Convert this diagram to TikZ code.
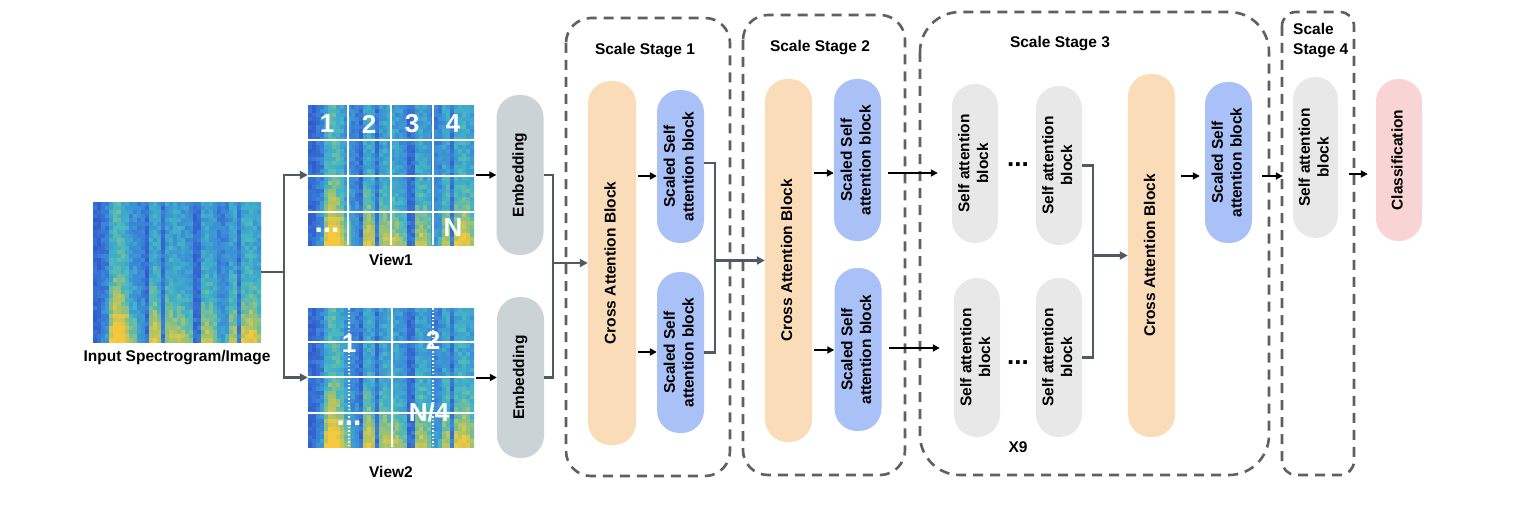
\documentclass[tikz,border=0pt]{standalone}
\usepackage{fontspec}
\setmainfont{Liberation Sans}
\usetikzlibrary{arrows.meta,calc}
\definecolor{sA}{HTML}{2E45C6}
\definecolor{sB}{HTML}{3A86D9}
\definecolor{sC}{HTML}{42B6C6}
\definecolor{sD}{HTML}{A6C46A}
\definecolor{sE}{HTML}{F8C83C}
\definecolor{embG}{HTML}{CBD3D7}
\definecolor{orgC}{HTML}{FADCB9}
\definecolor{bluC}{HTML}{A9C1F7}
\definecolor{grayC}{HTML}{E8E8E8}
\definecolor{pinkC}{HTML}{F9D4D4}
\definecolor{slate}{HTML}{4F5B62}
\definecolor{dashG}{HTML}{606060}
\newcommand\spcol[1]{%
  \pgfmathsetmacro\vv{#1}%
  \ifdim\vv pt<0.35pt \pgfmathtruncatemacro\pp{\vv/0.35*100}\colorlet{spc}{sB!\pp!sA}%
  \else\ifdim\vv pt<0.6pt \pgfmathtruncatemacro\pp{(\vv-0.35)/0.25*100}\colorlet{spc}{sC!\pp!sB}%
  \else\ifdim\vv pt<0.8pt \pgfmathtruncatemacro\pp{(\vv-0.6)/0.2*100}\colorlet{spc}{sD!\pp!sC}%
  \else \pgfmathtruncatemacro\pp{(\vv-0.8)/0.2*100}\colorlet{spc}{sE!\pp!sD}\fi\fi\fi}
\newcommand\spectro[4]{%
  \pgfmathsetseed{11}%
  \begin{scope}
  \clip (#1,#2) rectangle ++(#3,#4);
  \foreach \i in {0,...,41}{%
    \pgfmathsetmacro\ee{{0.0,0.02,0.15,0.2,0.6,0.72,0.75,0.68,0.6,0.4,0.38,0.25,0.22,0.04,0.55,0.6,0.5,0.06,0.5,0.55,0.5,0.52,0.48,0.42,0.38,0.04,0.05,0.5,0.55,0.5,0.45,0.25,0.22,0.28,0.5,0.52,0.1,0.55,0.6,0.62,0.55,0.5}[\i]}%
    \foreach \j in {0,...,34}{%
      \pgfmathsetmacro\tq{\j/34}%
      \spcol{max(0,min(1,0.2+\ee*(0.55+0.75*\tq^3)+0.2*(rnd-0.5)))}%
      \fill[spc] (#1+\i*#3/42,#2+\j*#4/35) rectangle ++(#3/42+0.5,#4/35+0.5);
    }}
  \end{scope}}
\newcommand\vt[1]{\rotatebox{90}{\begin{tabular}{@{}c@{}}#1\end{tabular}}}
\begin{document}
\begin{tikzpicture}[x=1pt,y=-1pt,
  blk/.style={rectangle,rounded corners=22.5pt,minimum width=47pt,inner sep=0pt,draw=none,
    font=\bfseries\fontsize{15.5}{18.6}\selectfont},
  lab/.style={font=\bfseries\fontsize{15.5}{18.6}\selectfont,inner sep=0pt},
  big/.style={font=\bfseries\fontsize{26}{30}\selectfont,text=white,inner sep=0pt},
  stage/.style={draw=dashG,line width=2.6pt,dash pattern=on 10pt off 7pt},
  conn/.style={draw=slate,line width=2.4pt},
  cta/.style={conn,-{Triangle[length=8pt,width=8pt]}},
  arr/.style={draw=black,line width=2pt,-{Triangle[length=7pt,width=7pt]}},
  gline/.style={draw=white,line width=1.6pt}]
\useasboundingbox[fill=white] (0,0) rectangle (1522,508);

% images
\node[minimum width=168pt,minimum height=140pt,inner sep=0pt] (spec) at (177,272) {};
\spectro{93}{202}{168}{140}
\node[lab] (lspec) at (177,358) {Input Spectrogram/Image};

\node[minimum width=166pt,minimum height=140pt,inner sep=0pt] (v1) at (391,175) {};
\spectro{308}{105}{166}{140}
\foreach \x in {348,391,433} \draw[gline] (\x,105) -- (\x,245);
\foreach \y in {140,176,212} \draw[gline] (308,\y) -- (474,\y);
\node[big] (n1) at (327,124) {1};
\node[big] (n2) at (369,124) {2};
\node[big] (n3) at (412,124) {3};
\node[big] (n4) at (453,124) {4};
\node[big,anchor=base,font=\bfseries\fontsize{30}{30}\selectfont] (nd1) at (327,232) {...};
\node[big] (nN) at (453,228) {N};
\node[lab] (lv1) at (391,260) {View1};

\node[minimum width=166pt,minimum height=139pt,inner sep=0pt] (v2) at (391,377.5) {};
\spectro{308}{308}{166}{139}
\foreach \y in {342,377,413} \draw[gline] (308,\y) -- (474,\y);
\draw[gline] (392,308) -- (392,447);
\foreach \x in {349,433} \draw[gline,dotted] (\x,308) -- (\x,447);
\node[big] (m1) at (349,344) {1};
\node[big] (m2) at (433,340) {2};
\node[big] (mN) at (429,412) {N/4};
\node[big,anchor=base,font=\bfseries\fontsize{30}{30}\selectfont] (md) at (349,425) {...};
\node[lab] (lv2) at (391,472) {View2};

% stage boxes
\draw[stage,rounded corners=25pt] (566,18) rectangle (730,476);
\draw[stage,rounded corners=25pt] (743,15) rectangle (905,475);
\draw[stage,rounded corners=40pt] (920,12) rectangle (1269,475);
\draw[stage,rounded corners=14pt] (1282,12) rectangle (1354,475);
\node[lab] (ls1) at (645,51) {Scale Stage 1};
\node[lab] (ls2) at (820,48) {Scale Stage 2};
\node[lab] (ls3) at (1060,44) {Scale Stage 3};
\node[lab,align=left,anchor=north west,font=\bfseries\fontsize{15.5}{20}\selectfont] (ls4) at (1293,23) {Scale\\Stage 4};
\node[lab] (lx9) at (1018,447) {X9};

% blocks
\node[blk,fill=embG,minimum height=160pt] (emb1) at (520,175) {\vt{Embedding}};
\node[blk,fill=embG,minimum height=161pt] (emb2) at (520.5,377.5) {\vt{Embedding}};
\node[blk,fill=orgC,minimum height=364pt,minimum width=48pt] (cab1) at (612,263) {\vt{Cross Attention Block}};
\node[blk,fill=bluC,minimum height=153pt] (ssa1a) at (680.5,166.5) {\vt{Scaled Self\\attention block}};
\node[blk,fill=bluC,minimum height=161pt] (ssa1b) at (680.5,352.5) {\vt{Scaled Self\\attention block}};
\node[blk,fill=orgC,minimum height=363pt] (cab2) at (788.5,260.5) {\vt{Cross Attention Block}};
\node[blk,fill=bluC,minimum height=162pt] (ssa2a) at (857.5,160) {\vt{Scaled Self\\attention block}};
\node[blk,fill=bluC,minimum height=163pt] (ssa2b) at (858,349.5) {\vt{Scaled Self\\attention block}};
\node[blk,fill=grayC,minimum height=159pt,minimum width=46pt] (sa3a) at (975,163.5) {\vt{Self attention\\block}};
\node[blk,fill=grayC,minimum height=159pt,minimum width=46pt] (sa3b) at (1059,165.5) {\vt{Self attention\\block}};
\node[blk,fill=grayC,minimum height=159pt,minimum width=46pt] (sa3c) at (977,357.5) {\vt{Self attention\\block}};
\node[blk,fill=grayC,minimum height=159pt,minimum width=46pt] (sa3d) at (1059,357.5) {\vt{Self attention\\block}};
\node[blk,fill=orgC,minimum height=363pt] (cab3) at (1151.5,255.5) {\vt{Cross Attention Block}};
\node[blk,fill=bluC,minimum height=161pt] (ssa3) at (1228.5,162.5) {\vt{Scaled Self\\attention block}};
\node[blk,fill=grayC,minimum height=161pt,minimum width=45pt] (sa4) at (1315.5,157.5) {\vt{Self attention\\block}};
\node[blk,fill=pinkC,minimum height=162pt,minimum width=46pt] (cls) at (1399,160) {\vt{Classification}};

\node[font=\bfseries\fontsize{26}{30}\selectfont,inner sep=0pt,anchor=base] (dt) at (1018,166) {...};
\node[font=\bfseries\fontsize{26}{30}\selectfont,inner sep=0pt,anchor=base] (db) at (1018,364) {...};

% connectors
\coordinate (tk) at (284,272);
\draw[conn] (spec.east) -- (tk);
\draw[cta] (tk) |- (v1.west);
\draw[cta] (tk) |- (v2.west);
\draw[arr] ($(v1.east)+(2,0)$) -- (emb1.west);
\draw[arr] ($(v2.east)+(2,0)$) -- (emb2.west);

\coordinate (j1) at (553,263);
\draw[conn] (emb1.east) -| (j1);
\draw[conn] (emb2.east) -| (j1);
\draw[cta] (j1) -- (cab1.west);

\draw[arr] ($(cab1.east |- 0,176)+(2,0)$) -- (ssa1a.west |- 0,176);
\draw[arr] ($(cab1.east |- 0,352)+(2,0)$) -- (ssa1b.west |- 0,352);

\coordinate (j2) at (715,260.5);
\draw[conn] (ssa1a.east |- 0,163) -| (j2);
\draw[conn] (ssa1b.east) -| (j2);
\draw[cta] (j2) -- (cab2.west);

\draw[arr] ($(cab2.east |- 0,173)+(2,0)$) -- (ssa2a.west |- 0,173);
\draw[arr] ($(cab2.east |- 0,350)+(2,0)$) -- (ssa2b.west |- 0,350);

\draw[arr,shorten <=7pt,shorten >=14pt] (ssa2a.east |- 0,173) -- (sa3a.west |- 0,173);
\draw[arr,shorten <=7pt,shorten >=14pt] (ssa2b.east |- 0,348) -- (sa3c.west |- 0,348);

\coordinate (j3) at (1093,255.5);
\draw[conn] (sa3b.east) -| (j3);
\draw[conn] (sa3d.east) -| (j3);
\draw[cta] (j3) -- (cab3.west);

\draw[arr,shorten <=6pt,shorten >=5pt] (cab3.east |- 0,176) -- (ssa3.west |- 0,176);
\draw[arr,shorten <=10pt,shorten >=10pt] (ssa3.east |- 0,176) -- (sa4.west |- 0,176);
\draw[arr,shorten <=11pt,shorten >=8pt] (sa4.east |- 0,174) -- (cls.west |- 0,174);
\end{tikzpicture}
\end{document}
